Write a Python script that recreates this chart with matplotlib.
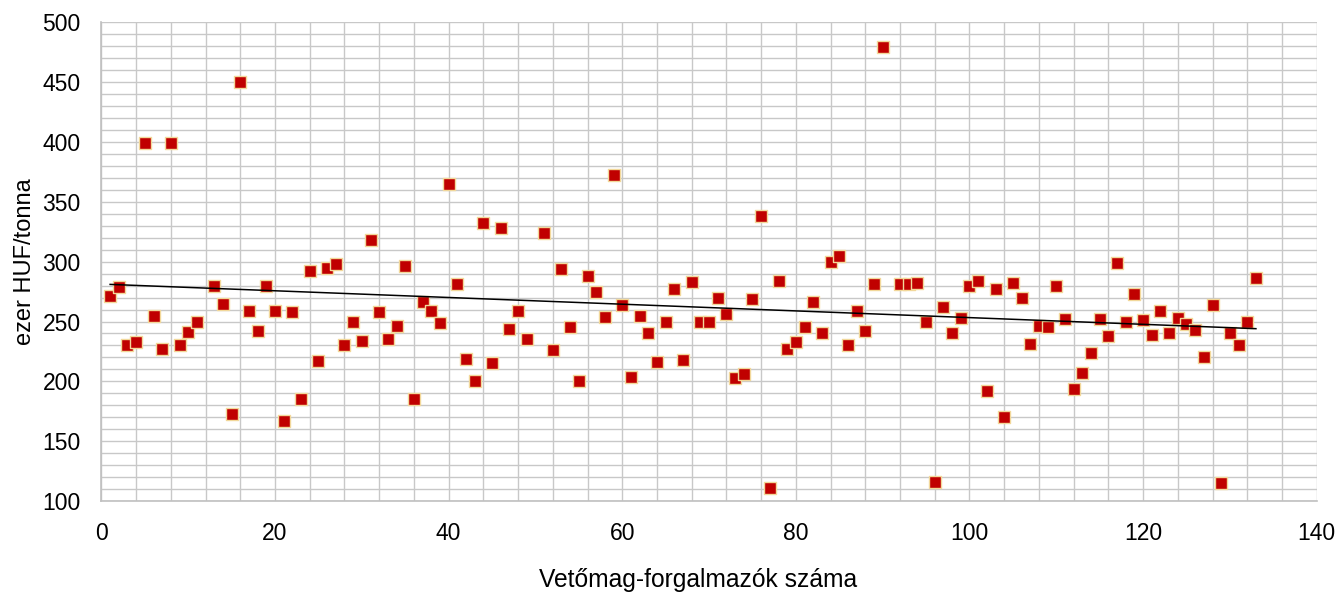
import numpy as np
import matplotlib
matplotlib.use("Agg")
import matplotlib.pyplot as plt
from matplotlib.ticker import MultipleLocator

plt.rcParams["font.family"] = ["Liberation Sans", "DejaVu Sans"]

# dealer index (x) and price in thousand HUF / tonne (y)
dealer_no = [
    1, 2, 3, 4, 5, 6, 7, 8, 9, 10, 11, 13, 14, 15, 16, 17, 18, 19, 20,
    21, 22, 23, 24, 25, 26, 27, 28, 29, 30, 31, 32, 33, 34, 35, 36, 37, 38, 39, 40,
    41, 42, 43, 44, 45, 46, 47, 48, 49, 51, 52, 53, 54, 55, 56, 57, 58, 59, 60,
    61, 62, 63, 64, 65, 66, 67, 68, 69, 70, 71, 72, 73, 74, 75, 76, 77, 78, 79, 80,
    81, 82, 83, 84, 85, 86, 87, 88, 89, 90, 92, 93, 94, 95, 96, 97, 98, 99, 100,
    101, 102, 103, 104, 105, 106, 107, 108, 109, 110, 111, 112, 113, 114, 115, 116,
    117, 118, 119, 120, 121, 122, 123, 124, 125, 126, 127, 128, 129, 130, 131, 132, 133,
]
price = [
    271, 279, 230, 233, 399, 255, 227, 399, 230, 241, 250, 280, 265, 173, 450, 259, 242, 280, 259,
    167, 258, 185, 292, 217, 295, 298, 230, 250, 234, 318, 258, 235, 246, 296, 185, 266, 259, 249, 365,
    281, 219, 200, 332, 215, 328, 244, 259, 235, 324, 226, 294, 245, 200, 288, 275, 254, 372, 264,
    204, 255, 240, 216, 250, 277, 218, 283, 250, 250, 270, 256, 203, 206, 269, 338, 111, 284, 227, 233,
    245, 266, 240, 300, 305, 230, 259, 242, 281, 479, 281, 281, 282, 250, 116, 262, 240, 253, 280,
    284, 192, 277, 170, 282, 270, 231, 246, 245, 280, 252, 194, 207, 224, 252, 238,
    299, 250, 273, 251, 239, 259, 240, 253, 248, 243, 220, 264, 115, 240, 230, 250, 286,
]

# linear trend line as drawn in the source chart (end points)
trend_x = [1, 133]
trend_y = [281, 244]

fig = plt.figure(figsize=(13.4, 5.92), dpi=100)
ax = fig.add_axes([0.0757, 0.1537, 0.9069, 0.8086])

ax.scatter(dealer_no, price, marker="s", s=80, color="#C00000",
           edgecolors="#F2D89A", linewidths=1.0, zorder=3)
ax.plot(trend_x, trend_y, color="black", lw=1.1, zorder=4)

ax.set_xlim(0, 140)
ax.set_ylim(100, 500)
ax.xaxis.set_major_locator(MultipleLocator(20))
ax.xaxis.set_minor_locator(MultipleLocator(4))
ax.yaxis.set_major_locator(MultipleLocator(50))
ax.yaxis.set_minor_locator(MultipleLocator(10))
ax.grid(which="both", color="#c8c8c8", lw=1.0, zorder=0)
ax.set_axisbelow(True)

for side in ["top", "right"]:
    ax.spines[side].set_visible(False)
for side in ["left", "bottom"]:
    ax.spines[side].set_color("#c0c0c0")
    ax.spines[side].set_linewidth(1.2)

ax.tick_params(which="both", length=0)
ax.tick_params(axis="x", labelsize=16.5, pad=15)
ax.tick_params(axis="y", labelsize=16.5, pad=15)

ax.set_xlabel("Vetőmag-forgalmazók száma", fontsize=17.7, va="baseline")
ax.xaxis.set_label_coords(0.491, -0.179)
ax.set_ylabel("ezer HUF/tonna", fontsize=17, va="center")
ax.yaxis.set_label_coords(-0.063, 0.5)

fig.savefig("out.png", dpi=100)
